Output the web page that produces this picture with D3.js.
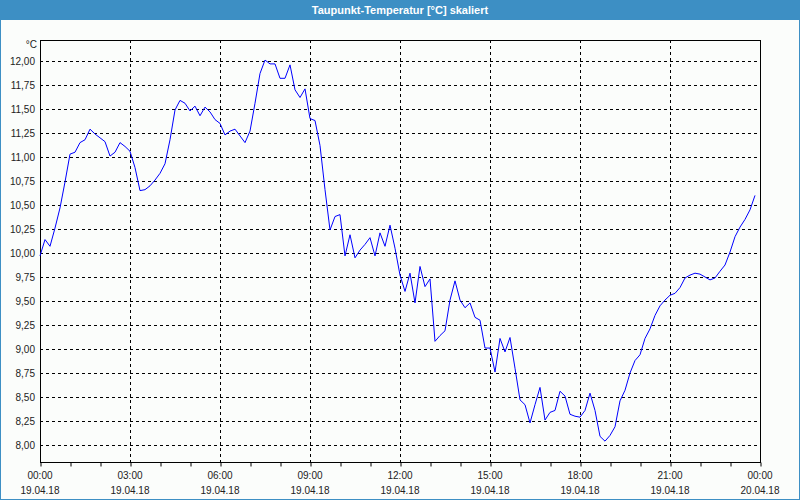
<!DOCTYPE html>
<html>
<head>
<meta charset="utf-8">
<script src="https://cdn.jsdelivr.net/npm/d3@7"></script>
<style>
html,body{margin:0;padding:0;background:#fff;}
svg{display:block;}
</style>
</head>
<body>
<svg id="chart" width="800" height="500"></svg>
<script>
const chartTitle = "Taupunkt-Temperatur [°C] skaliert";
const unitLabel = "°C";
const startTime = "2018-04-19T00:00:00";
const stepMinutes = 10;
const dewPoint = [
  9.97,10.14,10.07,10.26,10.47,10.74,11.03,11.05,11.15,11.18,11.29,11.24,
  11.20,11.16,11.01,11.05,11.15,11.11,11.06,10.89,10.65,10.66,10.70,10.76,
  10.83,10.93,11.18,11.49,11.59,11.56,11.48,11.53,11.43,11.52,11.47,11.39,
  11.35,11.23,11.27,11.29,11.22,11.15,11.27,11.56,11.87,12.01,11.97,11.97,
  11.82,11.82,11.96,11.70,11.62,11.71,11.40,11.38,11.12,10.66,10.24,10.38,
  10.40,9.97,10.19,9.95,10.03,10.09,10.16,9.97,10.21,10.07,10.29,10.05,
  9.77,9.60,9.79,9.48,9.86,9.65,9.73,9.08,9.14,9.19,9.51,9.71,
  9.51,9.43,9.48,9.33,9.30,9.01,9.01,8.76,9.11,8.97,9.12,8.80,
  8.47,8.42,8.23,8.42,8.60,8.26,8.34,8.36,8.56,8.51,8.32,8.30,
  8.29,8.36,8.54,8.36,8.09,8.04,8.10,8.19,8.46,8.57,8.75,8.88,
  8.94,9.11,9.21,9.35,9.45,9.51,9.56,9.58,9.64,9.74,9.77,9.79,
  9.78,9.75,9.72,9.74,9.81,9.875,10.01,10.17,10.27,10.35,10.45,10.60
];
const yTicks = [8.00,8.25,8.50,8.75,9.00,9.25,9.50,9.75,10.00,10.25,10.50,10.75,11.00,11.25,11.50,11.75,12.00];
const xTickHours = [0,3,6,9,12,15,18,21,24];
const yDomain = [7.823, 12.219];

const svg = d3.select("#chart");
const W = 800, H = 500;
const m = {left:40, right:40, top:40, bottom:38};
const pw = W - m.left - m.right, ph = H - m.top - m.bottom;

const t0 = new Date(startTime);
const t1 = d3.timeHour.offset(t0, 24);
const data = dewPoint.map((v,i)=>({t: d3.timeMinute.offset(t0, i*stepMinutes), v}));

const x = d3.scaleTime().domain([t0,t1]).range([m.left, m.left+pw]);
const y = d3.scaleLinear().domain(yDomain).range([m.top+ph, m.top]);

// background
svg.append("rect").attr("x",0).attr("y",0).attr("width",W).attr("height",H).attr("fill","#fbfdfb");
svg.append("rect").attr("x",0.5).attr("y",0.5).attr("width",W-1).attr("height",H-1)
  .attr("fill","none").attr("stroke","#3d8fc4").attr("stroke-width",1);
svg.append("rect").attr("x",0).attr("y",0).attr("width",W).attr("height",20).attr("fill","#3d8fc4");
svg.append("text").attr("x",W/2).attr("y",14).attr("text-anchor","middle")
  .attr("fill","#fff").attr("font-family","'Liberation Sans', Arial, sans-serif")
  .attr("font-size","11px").attr("font-weight","bold").text(chartTitle);

const font = "'Liberation Sans', Arial, sans-serif";
const g = svg.append("g");

// grid
const xTicks = xTickHours.map(h=>d3.timeHour.offset(t0,h));
g.selectAll("line.vg").data(xTicks.slice(1,-1)).join("line")
  .attr("x1",d=>Math.round(x(d))+0.5).attr("x2",d=>Math.round(x(d))+0.5)
  .attr("y1",m.top).attr("y2",m.top+ph)
  .attr("stroke","#000").attr("stroke-dasharray","3,3").attr("stroke-width",1);
g.selectAll("line.hg").data(yTicks).join("line")
  .attr("x1",m.left).attr("x2",m.left+pw)
  .attr("y1",d=>Math.round(y(d))+0.5).attr("y2",d=>Math.round(y(d))+0.5)
  .attr("stroke","#000").attr("stroke-dasharray","3,3").attr("stroke-width",1);

// frame
g.append("rect").attr("x",m.left+0.5).attr("y",m.top+0.5).attr("width",pw).attr("height",ph)
  .attr("fill","none").attr("stroke","#000").attr("stroke-width",1);

// line
const line = d3.line().x(d=>x(d.t)).y(d=>y(d.v));
g.append("path").datum(data).attr("d",line).attr("fill","none")
  .attr("stroke","#0000ff").attr("stroke-width",1);

// y axis labels
const fmtY = v=>v.toFixed(2).replace(".",",");
g.selectAll("text.yl").data(yTicks).join("text")
  .attr("x",m.left-5).attr("y",d=>Math.round(y(d))+4)
  .attr("text-anchor","end").attr("font-family",font).attr("font-size","10px")
  .attr("fill","#222").text(fmtY);
g.append("text").attr("x",m.left-3).attr("y",m.top+8).attr("text-anchor","end")
  .attr("font-family",font).attr("font-size","10px").attr("fill","#222").text(unitLabel);

// x axis ticks (hourly)
const xAxis = d3.axisBottom(x).ticks(d3.timeHour.every(1)).tickSize(4).tickFormat("");
const ax = g.append("g").attr("transform",`translate(0.5,${m.top+ph+0.5})`).call(xAxis);
ax.select(".domain").remove();
ax.selectAll("line").attr("stroke","#000");

// x labels
const fmtT = d3.timeFormat("%H:%M"), fmtD = d3.timeFormat("%d.%m.%y");
const xl = g.selectAll("g.xl").data(xTicks).join("g").attr("transform",d=>`translate(${x(d)},0)`);
xl.append("text").attr("y",m.top+ph+17).attr("text-anchor","middle")
  .attr("font-family",font).attr("font-size","10px").attr("fill","#222").text(fmtT);
xl.append("text").attr("y",m.top+ph+32).attr("text-anchor","middle")
  .attr("font-family",font).attr("font-size","10px").attr("fill","#222").text(fmtD);
</script>
</body>
</html>
